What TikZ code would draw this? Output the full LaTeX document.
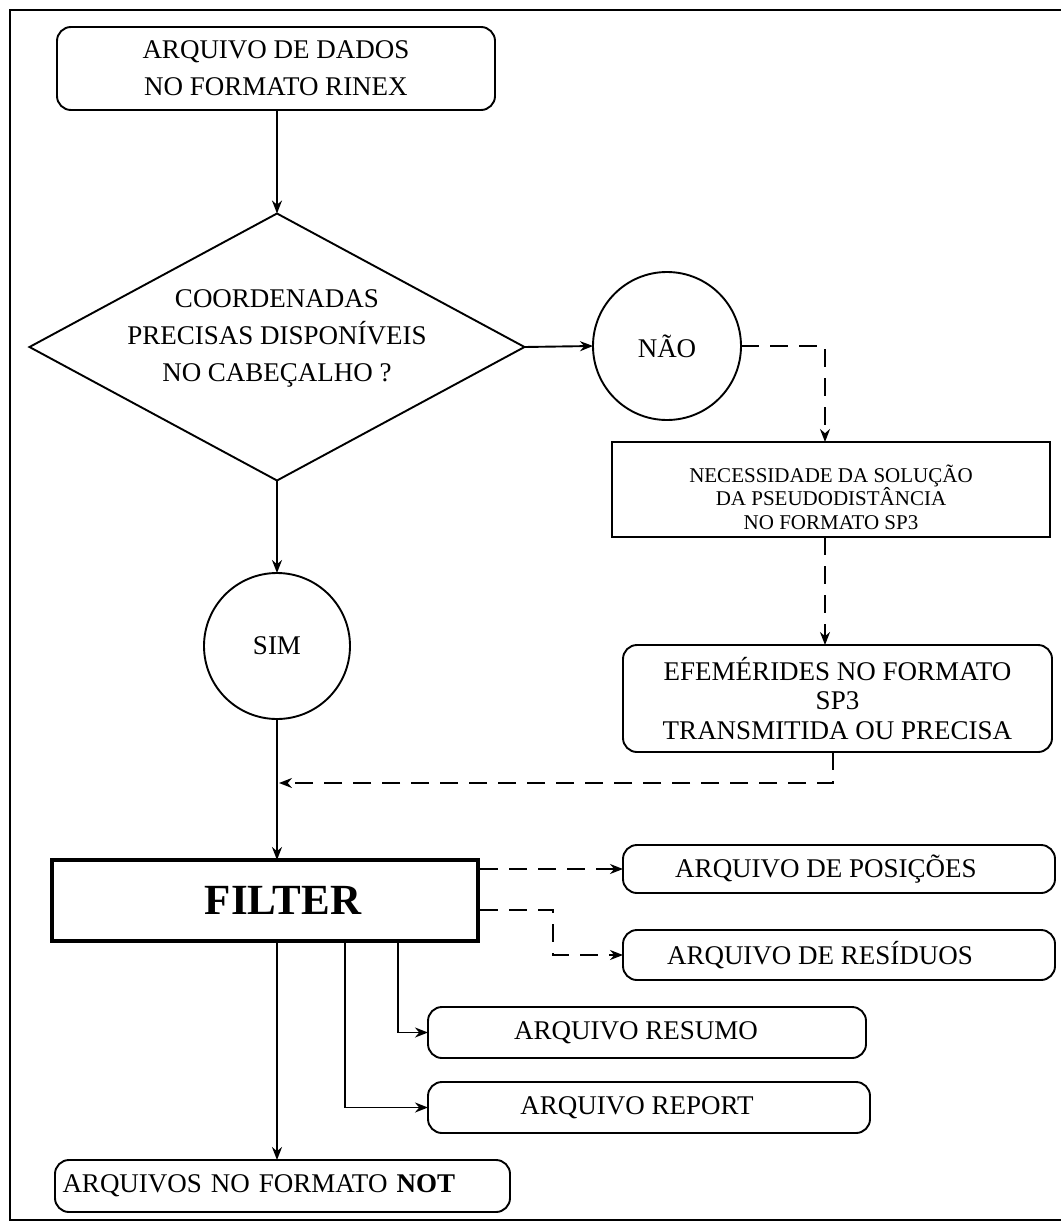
\documentclass[tikz,border=0pt]{standalone}
\usepackage{fontspec}
\setmainfont{Liberation Serif}
\usetikzlibrary{shapes.geometric,arrows.meta}
\begin{document}
\begin{tikzpicture}[x=1pt,y=-1pt,
  every node/.style={inner sep=0pt, outer sep=0pt},
  ln/.style={line width=1.9pt},
  arr/.style={ln,-{Stealth[length=13pt,width=10pt]}},
  darr/.style={arr, dash pattern=on 18pt off 11pt},
  bigfont/.style={font=\fontsize{27}{37}\selectfont},
  rbox/.style={draw, ln, rounded corners=14pt, align=center, bigfont},
  sbox/.style={draw, ln, rounded corners=14pt, bigfont},
  circ/.style={draw, ln, circle, minimum size=148pt, bigfont}
]
\useasboundingbox (0,0) rectangle (1060,1223);
% outer frame
\draw[line width=1.5pt] (1065,10) -- (10,10) -- (10,1220) -- (1065,1220);

% nodes
\node[sbox, minimum width=438pt, minimum height=83pt, align=center] (rinex) at (276,68.5)
  {ARQUIVO DE DADOS\\NO FORMATO RINEX};
\node[draw, ln, diamond, minimum width=495pt, minimum height=267pt] (dia) at (277,347) {};
\node[align=center, bigfont] (diatext) at (277,338)
  {COORDENADAS\\PRECISAS DISPONÍVEIS\\NO CABEÇALHO ?};
\node[circ] (nao) at (667,346) {NÃO};
\node[draw, ln, minimum width=438pt, minimum height=95pt] (sp3) at (831,489.5) {};
\node[align=center, font=\fontsize{21}{23.5}\selectfont] (sp3text) at (831,497)
  {NECESSIDADE DA SOLUÇÃO\\DA PSEUDODISTÂNCIA\\NO FORMATO SP3};
\node[rbox, minimum width=429pt, minimum height=107pt, font=\fontsize{27}{29.5}\selectfont] (efem) at (837.5,698.5)
  {EFEMÉRIDES NO FORMATO\\SP3\\TRANSMITIDA OU PRECISA};
\node[circ, minimum size=146pt] (sim) at (277,646) {SIM};
\node[draw, line width=4pt, minimum width=426pt, minimum height=81pt, font=\fontsize{43}{43}\selectfont\bfseries] (filter) at (265,900.5) {\kern36pt FILTER};
\node[sbox, minimum width=432pt, minimum height=48pt] (pos) at (839,869) {ARQUIVO DE POSIÇÕES\kern26pt};
\node[sbox, minimum width=432pt, minimum height=50pt] (res) at (839,955) {ARQUIVO DE RESÍDUOS\kern38pt};
\node[sbox, minimum width=438pt, minimum height=51pt] (resumo) at (647,1032.5) {ARQUIVO RESUMO\kern22pt};
\node[sbox, minimum width=442pt, minimum height=51pt] (report) at (649,1107.5) {ARQUIVO REPORT\kern24pt};
\node[rbox, minimum width=455pt, minimum height=52pt, text width=440pt, align=left] (notf) at (282.5,1186)
  {ARQUIVOS NO FORMATO \textbf{NOT}};

% helper coordinates
\coordinate (c1) at (825,346);
\coordinate (c2) at (833,783);
\coordinate (c3) at (553,910);
\coordinate (c4) at (553,955);
\coordinate (c5) at (345,1107.5);
\coordinate (c6) at (398,1032.5);
\coordinate (f1) at (277,943);
\coordinate (f2) at (345,943);
\coordinate (f3) at (398,943);
\coordinate (fr1) at (480,869);
\coordinate (fr2) at (480,910);

% connectors
\draw[arr] (rinex.south -| dia.north) -- (dia.north);
\draw[arr] (dia.east) -- (nao.west);
\draw[arr] (dia.south) -- (sim.north);
\draw[darr] (nao.east) -- (c1) -- (c1 |- sp3.north);
\draw[darr] (c1 |- sp3.south) -- (c1 |- efem.north);
\draw[darr] (c2 |- efem.south) -- (c2) -- ([xshift=2pt]sim.south |- c2);
\draw[arr] (sim.south) -- (sim.south |- filter.north);
\draw[darr] (fr1) -- (pos.west);
\draw[darr] (fr2) -- (c3) -- (c4) -- (res.west);
\draw[arr] (f3) -- (c6) -- (resumo.west);
\draw[arr] (f2) -- (c5) -- (report.west);
\draw[arr] (f1) -- (f1 |- notf.north);
\end{tikzpicture}
\end{document}
